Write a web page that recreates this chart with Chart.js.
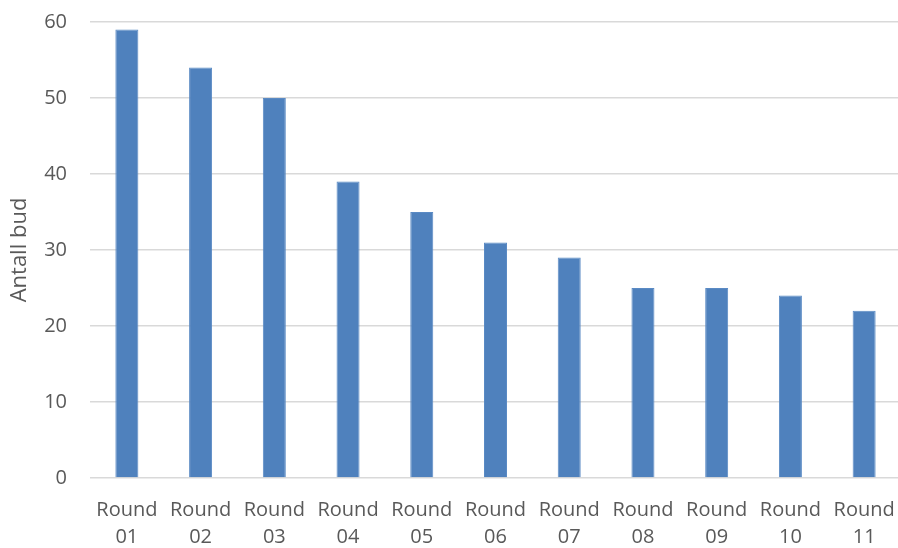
<!DOCTYPE html>
<html>
<head>
<meta charset="utf-8">
<script src="https://cdn.jsdelivr.net/npm/chart.js@4/dist/chart.umd.min.js"></script>
<style>
  html, body { margin: 0; padding: 0; background: #fff; overflow: hidden; }
  #wrap { position: relative; width: 901px; height: 548px; }
</style>
</head>
<body>
<div id="wrap"><canvas id="c"></canvas></div>
<script>
// Number of bids per round
const rounds = ['Round 01', 'Round 02', 'Round 03', 'Round 04', 'Round 05', 'Round 06',
                'Round 07', 'Round 08', 'Round 09', 'Round 10', 'Round 11'];
const bids = [59, 54, 50, 39, 35, 31, 29, 25, 25, 24, 22];
const yTicks = [0, 10, 20, 30, 40, 50, 60];
const yTitle = 'Antall bud';

const textColor = '#595959';
const family = "'Open Sans', 'Liberation Sans', sans-serif";
const font = { family, size: 20 };

new Chart(document.getElementById('c'), {
  type: 'bar',
  data: {
    labels: rounds.map(r => r.split(' ')),
    datasets: [{
      data: bids,
      backgroundColor: '#4f81bd',
      borderColor: '#5a8ac4',
      borderWidth: 1,
      categoryPercentage: 1,
      barPercentage: 0.312
    }]
  },
  options: {
    responsive: true,
    maintainAspectRatio: false,
    animation: false,
    layout: { padding: { top: 22, right: 0, bottom: 0, left: 0 } },
    plugins: { legend: { display: false }, tooltip: { enabled: false } },
    scales: {
      x: {
        grid: { display: false, drawTicks: false },
        border: { display: false },
        ticks: {
          color: textColor,
          font: { ...font, lineHeight: 1.35 },
          padding: 18.5,
          maxRotation: 0,
          autoSkip: false
        },
        afterFit(scale) {
          scale.height = 70;
          scale.paddingLeft = 0;
          scale.paddingRight = 0;
        }
      },
      y: {
        min: yTicks[0],
        max: yTicks[yTicks.length - 1],
        afterBuildTicks(scale) { scale.ticks = yTicks.map(v => ({ value: v })); },
        grid: { color: '#d9d9d9', lineWidth: 1.5, drawTicks: false },
        border: { display: false },
        ticks: { color: textColor, font, padding: 23 },
        title: {
          display: true,
          text: yTitle,
          color: textColor,
          font: { family, size: 22, lineHeight: 1.2 },
          padding: { top: 7, bottom: 0 }
        },
        afterFit(scale) {
          scale.width = 90;
          scale.paddingTop = 0;
          scale.paddingBottom = 0;
        }
      }
    }
  }
});
</script>
</body>
</html>
